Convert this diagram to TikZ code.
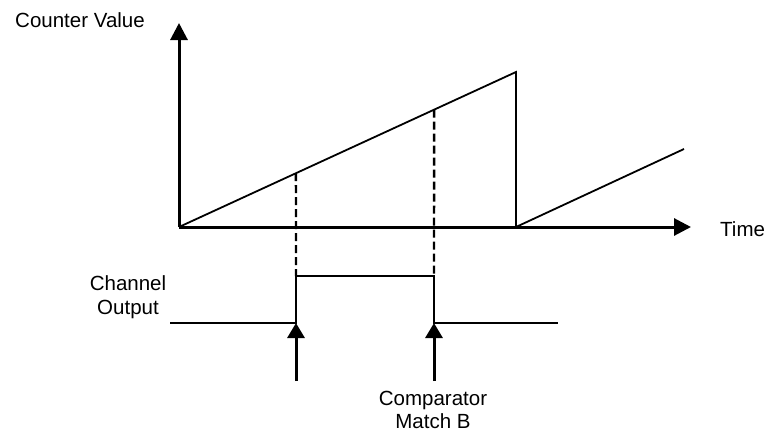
\documentclass[tikz,border=0pt]{standalone}
\usepackage{fontspec}
\setmainfont{Liberation Sans}
\usetikzlibrary{arrows.meta,calc}
\tikzset{
  axis/.style={line width=3pt,-{Triangle[length=17pt,width=17pt]}},
  trace/.style={line width=1.8pt},
  matchline/.style={line width=2.4pt,dash pattern=on 8pt off 4pt},
  event/.style={line width=3pt,-{Triangle[length=15pt,width=17pt]}},
  label/.style={font=\fontsize{20.5}{23}\selectfont,align=center,inner sep=0pt}
}
\begin{document}
\begin{tikzpicture}[x=1pt,y=-1pt]
  \useasboundingbox (0,0) rectangle (766,434);
  % counter axes
  \coordinate (O) at (179,227);
  \coordinate (ytip) at (179,23);
  \coordinate (xtip) at (691,227);
  \draw[axis] (O) -- (ytip);
  \draw[axis] (O) -- (xtip);
  \node[label,anchor=base] (cnt) at (80,27) {Counter Value};
  \node[label,anchor=base west] (time) at (720,236) {Time};
  % counter ramp
  \coordinate (peak) at (516,72);
  \coordinate (reset) at (516,227);
  \coordinate (ramp) at (684,149);
  \draw[trace] (O) -- (peak) -- (reset) -- (ramp);
  % channel output
  \coordinate (lowL) at (170,323);
  \coordinate (rise) at (296,323);
  \coordinate (hiL) at (296,276);
  \coordinate (hiR) at (434,276);
  \coordinate (fall) at (434,323);
  \coordinate (lowR) at (558,323);
  \draw[trace] (lowL) -- (rise) -- (hiL) -- (hiR) -- (fall) -- (lowR);
  \node[label,anchor=north] (chan) at (128,275) {Channel\\[1pt]Output};
  % compare matches
  \coordinate (m1) at ($(O)!0.347!(peak)$);
  \coordinate (m2) at ($(O)!0.757!(peak)$);
  \draw[matchline] (m1) -- (hiL);
  \draw[matchline] (m2) -- (hiR);
  \foreach \x/\n in {296/1,434/2} {
    \coordinate (ev\n) at (\x,381);
    \draw[event] (ev\n) -- (\x,323);
  }
  \node[label,anchor=north] (cmp) at (433,391) {Comparator\\Match B};
\end{tikzpicture}
\end{document}
